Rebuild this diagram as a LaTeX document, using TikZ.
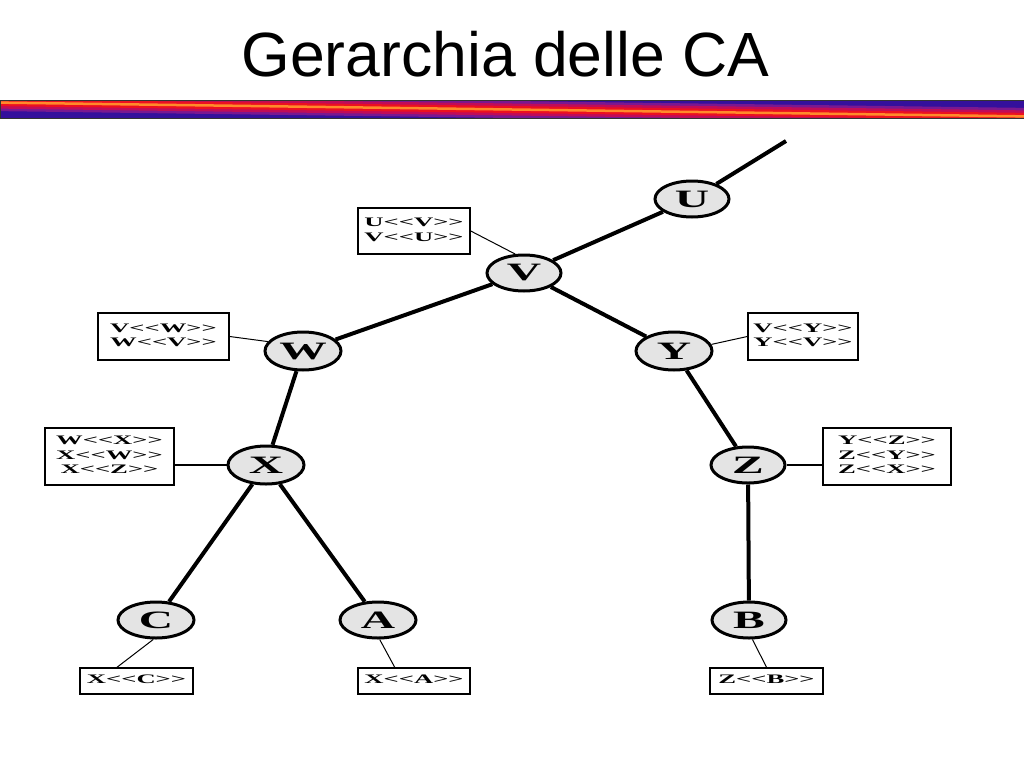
\documentclass[tikz,border=0pt]{standalone}
\usepackage{fontspec}
\setmainfont{Liberation Serif}[Ligatures=TeXOff]
\newfontfamily\titlefont{Liberation Sans}
\newfontfamily\boxfont{Liberation Serif}[Ligatures=TeXOff]
\usetikzlibrary{shapes.geometric,calc}
\definecolor{nodegray}{HTML}{E4E4E4}
\definecolor{barblue}{HTML}{34109C}
\definecolor{barpurple}{HTML}{7A1890}
\definecolor{barmag}{HTML}{C00C58}
\definecolor{barred}{HTML}{EC1020}
\definecolor{barorange}{HTML}{FF8A2A}
\newcommand\nodelbl[1]{\scalebox{1.9}[1]{#1}}
\newcommand\certlbl[1]{\scalebox{2.05}[1]{\begin{tabular}{@{}c@{}}#1\end{tabular}}}
\tikzset{
  ca/.style={ellipse, draw, line width=3pt, fill=nodegray, minimum width=74pt,
    minimum height=36pt, inner sep=0pt, font=\boxfont\fontsize{25}{25}\selectfont\bfseries},
  link/.style={line width=4pt},
  cert/.style={draw, line width=1.5pt, inner sep=0pt, align=center,
    font=\boxfont\fontsize{13}{14.5}\selectfont\bfseries},
  tie/.style={line width=1pt},
  tiethick/.style={line width=2pt},
}
\begin{document}
\begin{tikzpicture}[x=1pt,y=-1pt]
\useasboundingbox (0,0) rectangle (1024,768);
% title
\node[anchor=base, font=\titlefont\fontsize{62.5}{62.5}\selectfont, inner sep=0pt] (title) at (505.5,76) {Gerarchia delle CA};
% bar
\fill[barblue] (0,100) rectangle (1024,118);
\begin{scope}
  \clip (0,100) rectangle (1024,118);
  \coordinate (barL) at (-10,102.5);
  \coordinate (barR) at (1034,116.5);
  \draw[line width=17pt, barpurple] (barL) -- (barR);
  \draw[line width=12pt, barmag] (barL) -- (barR);
  \draw[line width=7pt, barred] (barL) -- (barR);
  \draw[line width=2.5pt, barorange] (barL) -- (barR);
\end{scope}
\draw[line width=0.8pt, black!80] (0,100) rectangle (1024,118);

% CA nodes
\node[ca] (U) at (692,199) {\nodelbl{U}};
\node[ca] (V) at (524,273) {\nodelbl{V}};
\node[ca, minimum width=76pt, minimum height=38pt] (W) at (303,351) {\nodelbl{W}};
\node[ca, minimum width=76pt, minimum height=38pt] (Y) at (674,351) {\nodelbl{Y}};
\node[ca, minimum width=76pt, minimum height=38pt] (X) at (266,465) {\nodelbl{X}};
\node[ca] (Z) at (748,465) {\nodelbl{Z}};
\node[ca, minimum width=76pt] (C) at (156,620) {\nodelbl{C}};
\node[ca, minimum width=76pt] (A) at (378,620) {\nodelbl{A}};
\node[ca] (B) at (749,620) {\nodelbl{B}};
\coordinate (top) at (786,141);

% hierarchy links
\draw[link] (top) -- (U);
\draw[link] (U) -- (V);
\draw[link] (V) -- (W);
\draw[link] (V) -- (Y);
\draw[link] (W) -- (X);
\draw[link] (Y) -- (Z);
\draw[link] (X) -- (C);
\draw[link] (X) -- (A);
\draw[link] (Z) -- (B);

% certificate boxes
\node[cert, minimum width=112pt, minimum height=46pt] (bV) at (414,231) {\certlbl{U<<V>>\\V<<U>>}};
\node[cert, minimum width=131pt, minimum height=47pt] (bW) at (163.5,336.5) {\certlbl{V<<W>>\\W<<V>>}};
\node[cert, minimum width=110pt, minimum height=47pt] (bY) at (803,336.5) {\certlbl{V<<Y>>\\Y<<V>>}};
\node[cert, minimum width=129pt, minimum height=57pt] (bX) at (109.5,456.5) {\certlbl{W<<X>>\\X<<W>>\\X<<Z>>}};
\node[cert, minimum width=128pt, minimum height=57pt] (bZ) at (887,456.5) {\certlbl{Y<<Z>>\\Z<<Y>>\\Z<<X>>}};
\node[cert, minimum width=113pt, minimum height=26pt] (bC) at (136.5,681) {\certlbl{X<<C>>}};
\node[cert, minimum width=112pt, minimum height=26pt] (bA) at (414,681) {\certlbl{X<<A>>}};
\node[cert, minimum width=113pt, minimum height=26pt] (bB) at (766.5,681) {\certlbl{Z<<B>>}};

% ties
\draw[tie] (bV.east) -- (V.115);
\draw[tie] (bW.east) -- (W.165);
\draw[tie] (Y.10) -- (bY.west);
\draw[tiethick] (bX.east |- X) -- (X.west);
\draw[tiethick] (Z.east) -- (bZ.west |- Z);
\draw[tie] ($(bC.north west)!0.33!(bC.north east)$) -- (C.262);
\draw[tie] ($(bA.north west)!0.33!(bA.north east)$) -- (A.275);
\draw[tie] (bB.north) -- (B.280);
\end{tikzpicture}
\end{document}
